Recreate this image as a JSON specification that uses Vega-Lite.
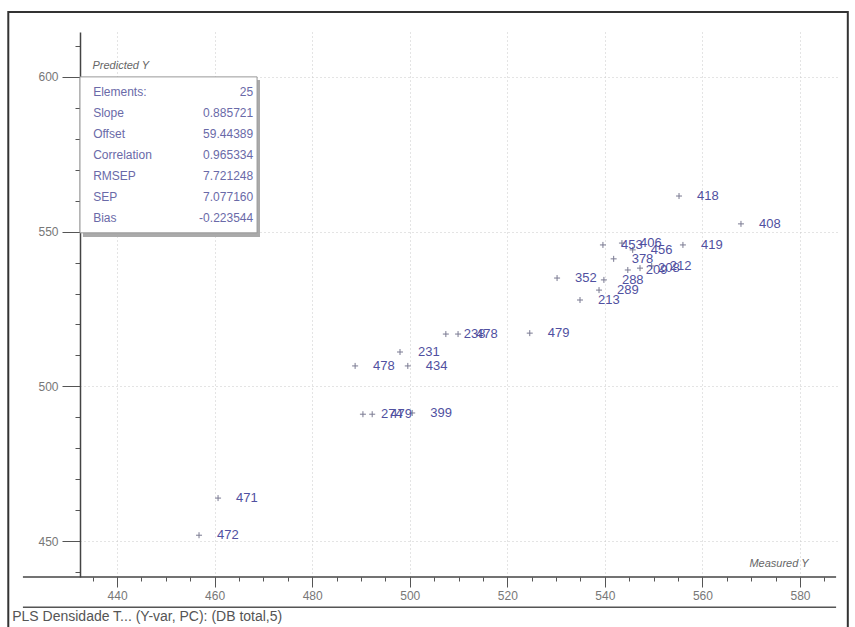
{
  "$schema": "https://vega.github.io/schema/vega-lite/v6.json",
  "width": 760,
  "height": 545,
  "autosize": "none",
  "padding": {"left": 80, "top": 32, "right": 15, "bottom": 50},
  "background": "white",
  "config": {"view": {"stroke": null}, "font": "Liberation Sans"},
  "data": {"values": [{}]},
  "datasets": {
    "pts": [
      {"measured": 555.2, "predicted": 561.5, "id": "418"},
      {"measured": 567.9, "predicted": 552.5, "id": "408"},
      {"measured": 556.0, "predicted": 545.7, "id": "419"},
      {"measured": 539.6, "predicted": 545.7, "id": "453"},
      {"measured": 543.5, "predicted": 546.3, "id": "406"},
      {"measured": 545.7, "predicted": 544.1, "id": "456"},
      {"measured": 541.8, "predicted": 541.2, "id": "378"},
      {"measured": 539.8, "predicted": 534.4, "id": "288"},
      {"measured": 538.8, "predicted": 531.1, "id": "289"},
      {"measured": 547.2, "predicted": 538.2, "id": "208"},
      {"measured": 549.6, "predicted": 538.9, "id": "212"},
      {"measured": 544.7, "predicted": 537.6, "id": "209"},
      {"measured": 530.2, "predicted": 535.0, "id": "352"},
      {"measured": 534.9, "predicted": 527.9, "id": "213"},
      {"measured": 498.0, "predicted": 511.1, "id": "231"},
      {"measured": 488.8, "predicted": 506.6, "id": "478"},
      {"measured": 499.6, "predicted": 506.6, "id": "434"},
      {"measured": 507.4, "predicted": 516.9, "id": "238"},
      {"measured": 509.9, "predicted": 516.9, "id": "478"},
      {"measured": 524.6, "predicted": 517.2, "id": "479"},
      {"measured": 490.4, "predicted": 491.0, "id": "274"},
      {"measured": 492.3, "predicted": 491.0, "id": "479"},
      {"measured": 500.5, "predicted": 491.4, "id": "399"},
      {"measured": 460.7, "predicted": 463.9, "id": "471"},
      {"measured": 456.8, "predicted": 451.9, "id": "472"}
    ]
  },
  "layer": [
    {
      "data": {"name": "pts"},
      "mark": {"type": "point", "shape": "M-1,0H1M0,-1V1", "filled": false, "strokeWidth": 1, "size": 36, "color": "#444466"},
      "encoding": {
        "x": {
          "field": "measured", "type": "quantitative",
          "scale": {"domain": [432.4, 588.2], "nice": false, "zero": false},
          "axis": {
            "values": [435, 440, 445, 450, 455, 460, 465, 470, 475, 480, 485, 490, 495, 500, 505, 510, 515, 520, 525, 530, 535, 540, 545, 550, 555, 560, 565, 570, 575, 580, 585],
            "tickCount": 200,
            "labelExpr": "datum.value % 20 === 0 ? datum.label : ''",
            "domain": false,
            "ticks": true,
            "tickColor": "#555555",
            "tickSize": {"condition": {"test": "datum.value % 20 === 0", "value": 10}, "value": 4},
            "labelColor": "#777777",
            "labelFontSize": 12,
            "labelPadding": 3,
            "labelOverlap": false,
            "labelFlush": false,
            "grid": true,
            "gridDash": [1, 3],
            "gridColor": "#c8c8c8",
            "gridOpacity": {"condition": {"test": "datum.value % 20 === 0", "value": 1}, "value": 0},
            "title": "Measured Y",
            "titleFontStyle": "italic",
            "titleFontWeight": "normal",
            "titleFontSize": 11,
            "titleColor": "#666666",
            "titleAngle": 0,
            "titleAlign": "right",
            "titleBaseline": "middle",
            "titleX": 728,
            "titleY": -14
          }
        },
        "y": {
          "field": "predicted", "type": "quantitative",
          "scale": {"domain": [438.4, 614.5], "nice": false, "zero": false},
          "axis": {
            "values": [440, 450, 460, 470, 480, 490, 500, 510, 520, 530, 540, 550, 560, 570, 580, 590, 600, 610],
            "tickCount": 200,
            "labelExpr": "datum.value % 50 === 0 ? datum.label : ''",
            "domain": true,
            "domainColor": "#444444",
            "domainWidth": 1.5,
            "tickColor": "#555555",
            "tickSize": {"condition": {"test": "datum.value % 50 === 0", "value": 18}, "value": 5},
            "labelColor": "#777777",
            "labelFontSize": 12,
            "labelPadding": 4,
            "labelOverlap": false,
            "labelFlush": false,
            "grid": true,
            "gridDash": [1, 3],
            "gridColor": "#c8c8c8",
            "gridOpacity": {"condition": {"test": "datum.value % 50 === 0", "value": 1}, "value": 0},
            "title": "Predicted Y",
            "titleFontStyle": "italic",
            "titleFontWeight": "normal",
            "titleFontSize": 11,
            "titleColor": "#666666",
            "titleAngle": 0,
            "titleAlign": "left",
            "titleBaseline": "middle",
            "titleX": 12,
            "titleY": 33
          }
        }
      }
    },
    {
      "data": {"name": "pts"},
      "mark": {"type": "text", "align": "left", "baseline": "middle", "dx": 18, "fontSize": 13, "color": "#5050a0"},
      "encoding": {
        "x": {"field": "measured", "type": "quantitative"},
        "y": {"field": "predicted", "type": "quantitative"},
        "text": {"field": "id"}
      }
    },
    {
      "mark": {"type": "rect", "fill": null, "stroke": "#333333", "strokeWidth": 2, "clip": false},
      "encoding": {
        "x": {"datum": 417.7, "type": "quantitative"},
        "x2": {"datum": 589.8},
        "y": {"datum": 621.0, "type": "quantitative"},
        "y2": {"datum": 417.7}
      }
    },
    {
      "mark": {"type": "rect", "fill": "#aaaaaa", "clip": false},
      "encoding": {
        "x": {"datum": 433.0, "type": "quantitative"},
        "x2": {"datum": 469.3},
        "y": {"datum": 599.0, "type": "quantitative"},
        "y2": {"datum": 548.3}
      }
    },
    {
      "mark": {"type": "rect", "fill": "white", "stroke": "#999999", "strokeWidth": 1, "clip": false},
      "encoding": {
        "x": {"datum": 432.4, "type": "quantitative"},
        "x2": {"datum": 468.7},
        "y": {"datum": 600.0, "type": "quantitative"},
        "y2": {"datum": 549.6}
      }
    },
    {
      "mark": {"type": "text", "align": "left", "baseline": "middle", "fontSize": 12, "lineHeight": 21, "color": "#6a6aa8", "clip": false,
        "text": ["Elements:", "Slope", "Offset", "Correlation", "RMSEP", "SEP", "Bias"]},
      "encoding": {
        "x": {"datum": 435.1, "type": "quantitative"},
        "y": {"datum": 595.15, "type": "quantitative"}
      }
    },
    {
      "mark": {"type": "text", "align": "right", "baseline": "middle", "fontSize": 12, "lineHeight": 21, "color": "#6a6aa8", "clip": false,
        "text": ["25", "0.885721", "59.44389", "0.965334", "7.721248", "7.077160", "-0.223544"]},
      "encoding": {
        "x": {"datum": 467.9, "type": "quantitative"},
        "y": {"datum": 595.15, "type": "quantitative"}
      }
    },
    {
      "mark": {"type": "rule", "color": "#444444", "strokeWidth": 1.5, "clip": false},
      "encoding": {
        "x": {"datum": 420.7, "type": "quantitative"},
        "x2": {"datum": 587.4},
        "y": {"datum": 438.4, "type": "quantitative"}
      }
    },
    {
      "mark": {"type": "rule", "color": "#555555", "strokeWidth": 1.5, "clip": false},
      "encoding": {
        "x": {"datum": 420.7, "type": "quantitative"},
        "x2": {"datum": 587.4},
        "y": {"datum": 428.66, "type": "quantitative"}
      }
    },
    {
      "mark": {"type": "text", "align": "left", "baseline": "middle", "fontSize": 14, "color": "#555555", "clip": false,
        "text": "PLS Densidade T... (Y-var, PC): (DB total,5)"},
      "encoding": {
        "x": {"datum": 418.5, "type": "quantitative"},
        "y": {"datum": 425.4, "type": "quantitative"}
      }
    }
  ]
}
